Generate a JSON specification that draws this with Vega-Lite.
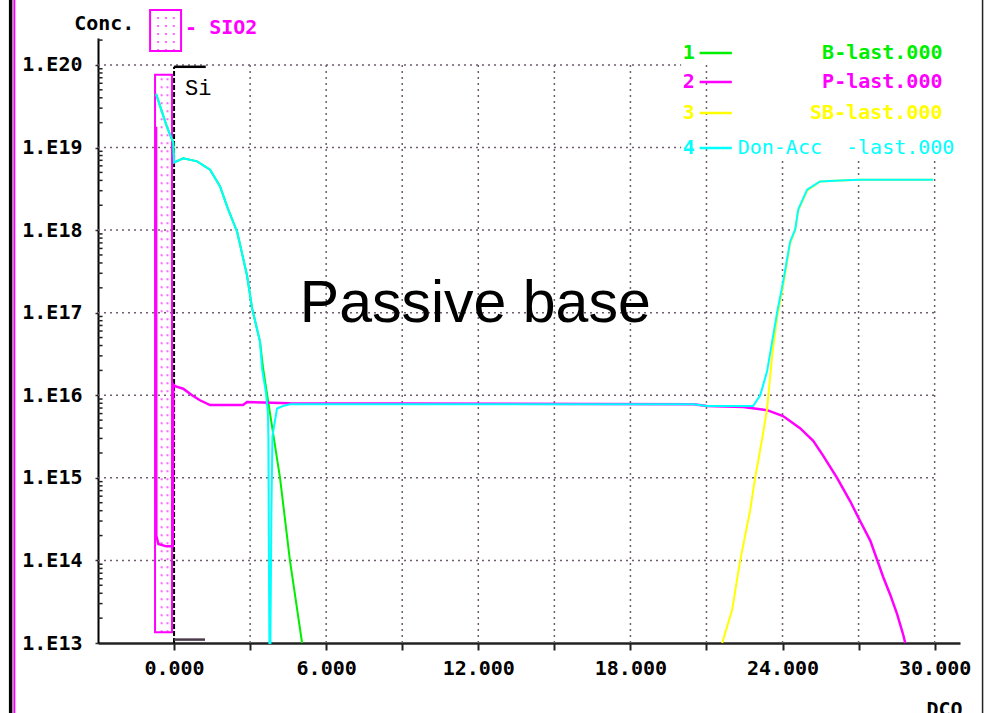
{
  "$schema": "https://vega.github.io/schema/vega-lite/v6.json",
  "width": 862,
  "height": 605,
  "autosize": {"type": "none"},
  "padding": {"left": 98, "top": 38, "right": 29, "bottom": 70},
  "background": "white",
  "config": {"view": {"stroke": null}},
  "datasets": {
    "grid": [
      {"x": -3, "x2": 20.0, "y": 1e20, "y2": 1e20},
      {"x": -3, "x2": 20.0, "y": 1e19, "y2": 1e19},
      {"x": -3, "x2": 30, "y": 1e18, "y2": 1e18},
      {"x": -3, "x2": 30, "y": 1e17, "y2": 1e17},
      {"x": -3, "x2": 30, "y": 1e16, "y2": 1e16},
      {"x": -3, "x2": 30, "y": 1e15, "y2": 1e15},
      {"x": -3, "x2": 30, "y": 1e14, "y2": 1e14},
      {"x": 3, "x2": 3, "y": 1e13, "y2": 1e20},
      {"x": 6, "x2": 6, "y": 1e13, "y2": 1e20},
      {"x": 9, "x2": 9, "y": 1e13, "y2": 1e20},
      {"x": 12, "x2": 12, "y": 1e13, "y2": 1e20},
      {"x": 15, "x2": 15, "y": 1e13, "y2": 1e20},
      {"x": 18, "x2": 18, "y": 1e13, "y2": 1e20},
      {"x": 21, "x2": 21, "y": 1e13, "y2": 1e20},
      {"x": 24, "x2": 24, "y": 1e13, "y2": 7.08e18},
      {"x": 27, "x2": 27, "y": 1e13, "y2": 7.08e18},
      {"x": 30, "x2": 30, "y": 1e13, "y2": 7.08e18}
    ],
    "minor": [
      {"m": 2e13}, {"m": 3e13}, {"m": 4e13}, {"m": 5e13}, {"m": 6e13}, {"m": 7e13}, {"m": 8e13}, {"m": 9e13},
      {"m": 2e14}, {"m": 3e14}, {"m": 4e14}, {"m": 5e14}, {"m": 6e14}, {"m": 7e14}, {"m": 8e14}, {"m": 9e14},
      {"m": 2e15}, {"m": 3e15}, {"m": 4e15}, {"m": 5e15}, {"m": 6e15}, {"m": 7e15}, {"m": 8e15}, {"m": 9e15},
      {"m": 2e16}, {"m": 3e16}, {"m": 4e16}, {"m": 5e16}, {"m": 6e16}, {"m": 7e16}, {"m": 8e16}, {"m": 9e16},
      {"m": 2e17}, {"m": 3e17}, {"m": 4e17}, {"m": 5e17}, {"m": 6e17}, {"m": 7e17}, {"m": 8e17}, {"m": 9e17},
      {"m": 2e18}, {"m": 3e18}, {"m": 4e18}, {"m": 5e18}, {"m": 6e18}, {"m": 7e18}, {"m": 8e18}, {"m": 9e18},
      {"m": 2e19}, {"m": 3e19}, {"m": 4e19}, {"m": 5e19}, {"m": 6e19}, {"m": 7e19}, {"m": 8e19}, {"m": 9e19},
      {"m": 2e20}
    ],
    "boxes": [
      {"x": -0.75, "x2": -0.08, "y": 1.35e13, "y2": 7.6e19},
      {"x": -0.946, "x2": 0.276, "y": 1.48e20, "y2": 4.64e20}
    ],
    "dots": [
      {"x": -0.49, "y": 1.35e13, "y2": 7.6e19},
      {"x": -0.26, "y": 1.35e13, "y2": 7.6e19},
      {"x": -0.63, "y": 1.48e20, "y2": 4.64e20},
      {"x": -0.32, "y": 1.48e20, "y2": 4.64e20},
      {"x": -0.01, "y": 1.48e20, "y2": 4.64e20}
    ],
    "B": [
      {"x": -0.71, "c": 4.47e19}, {"x": -0.28, "c": 1.78e19}, {"x": -0.03, "c": 1.15e19}, {"x": 0.0, "c": 6.6e18},
      {"x": 0.36, "c": 7.4e18}, {"x": 0.91, "c": 6.8e18}, {"x": 1.42, "c": 5.4e18}, {"x": 1.81, "c": 3.4e18},
      {"x": 2.13, "c": 1.8e18}, {"x": 2.49, "c": 9.5e17}, {"x": 2.88, "c": 2.8e17}, {"x": 3.08, "c": 1.12e17},
      {"x": 3.39, "c": 4.47e16}, {"x": 3.51, "c": 2.14e16}, {"x": 3.71, "c": 8.5e15}, {"x": 4.18, "c": 1.0e15},
      {"x": 4.57, "c": 1.0e14}, {"x": 5.05, "c": 1.0e13}
    ],
    "P": [
      {"x": -0.71, "c": 1.78e19}, {"x": -0.70, "c": 2.0e14}, {"x": -0.62, "c": 1.58e14}, {"x": -0.3, "c": 1.48e14},
      {"x": -0.05, "c": 1.48e14}, {"x": -0.03, "c": 1.35e16}, {"x": 0.04, "c": 1.29e16}, {"x": 0.36, "c": 1.2e16},
      {"x": 0.71, "c": 1.0e16}, {"x": 1.02, "c": 8.7e15}, {"x": 1.42, "c": 7.6e15}, {"x": 2.72, "c": 7.6e15},
      {"x": 2.88, "c": 8.3e15}, {"x": 4.58, "c": 8.0e15}, {"x": 20.5, "c": 7.8e15}, {"x": 21.0, "c": 7.4e15},
      {"x": 22.45, "c": 7.2e15}, {"x": 23.39, "c": 6.6e15}, {"x": 24.02, "c": 5.6e15}, {"x": 24.69, "c": 4.0e15},
      {"x": 25.21, "c": 2.8e15}, {"x": 25.6, "c": 1.86e15}, {"x": 26.15, "c": 1.0e15}, {"x": 26.67, "c": 5.2e14},
      {"x": 27.06, "c": 3.0e14}, {"x": 27.46, "c": 1.74e14}, {"x": 27.73, "c": 1.02e14}, {"x": 27.97, "c": 6.3e13},
      {"x": 28.24, "c": 3.9e13}, {"x": 28.52, "c": 2.24e13}, {"x": 28.76, "c": 1.26e13}, {"x": 28.84, "c": 1.0e13}
    ],
    "SB": [
      {"x": 21.62, "c": 1.0e13}, {"x": 22.01, "c": 2.5e13}, {"x": 22.33, "c": 1.0e14}, {"x": 22.72, "c": 4.0e14},
      {"x": 22.92, "c": 1.0e15}, {"x": 23.2, "c": 3.0e15}, {"x": 23.39, "c": 6.9e15}, {"x": 23.6, "c": 3.2e16},
      {"x": 23.79, "c": 8.9e16}, {"x": 24.02, "c": 2.1e17}, {"x": 24.3, "c": 6.9e17}, {"x": 24.5, "c": 1.0e18},
      {"x": 24.62, "c": 1.74e18}, {"x": 24.97, "c": 3.0e18}, {"x": 25.48, "c": 3.89e18}, {"x": 26.27, "c": 3.98e18},
      {"x": 27.06, "c": 4.07e18}, {"x": 29.94, "c": 4.07e18}
    ],
    "DA": [
      {"x": -0.71, "c": 4.47e19}, {"x": -0.28, "c": 1.78e19}, {"x": -0.03, "c": 1.15e19}, {"x": 0.0, "c": 6.6e18},
      {"x": 0.36, "c": 7.4e18}, {"x": 0.91, "c": 6.8e18}, {"x": 1.42, "c": 5.4e18}, {"x": 1.81, "c": 3.4e18},
      {"x": 2.13, "c": 1.8e18}, {"x": 2.49, "c": 9.5e17}, {"x": 2.88, "c": 2.8e17}, {"x": 3.08, "c": 1.12e17},
      {"x": 3.39, "c": 4.47e16}, {"x": 3.47, "c": 2.1e16}, {"x": 3.62, "c": 1.1e16}, {"x": 3.7, "c": 6.3e15},
      {"x": 3.72, "c": 3.2e15}, {"x": 3.74, "c": 1.26e14}, {"x": 3.76, "c": 1.0e13}, {"x": 3.8, "c": 1.0e13},
      {"x": 3.84, "c": 4.0e14}, {"x": 3.88, "c": 3.2e15}, {"x": 4.06, "c": 6.9e15}, {"x": 4.3, "c": 7.4e15},
      {"x": 4.58, "c": 7.8e15}, {"x": 10.0, "c": 7.8e15}, {"x": 16.0, "c": 7.8e15}, {"x": 20.5, "c": 7.8e15},
      {"x": 21.0, "c": 7.4e15}, {"x": 22.84, "c": 7.4e15}, {"x": 23.12, "c": 1.0e16}, {"x": 23.39, "c": 1.95e16},
      {"x": 23.79, "c": 1.02e17}, {"x": 24.02, "c": 2.34e17}, {"x": 24.3, "c": 7.24e17}, {"x": 24.5, "c": 1.02e18},
      {"x": 24.62, "c": 1.78e18}, {"x": 24.97, "c": 3.09e18}, {"x": 25.48, "c": 3.89e18}, {"x": 26.27, "c": 3.98e18},
      {"x": 27.06, "c": 4.07e18}, {"x": 29.94, "c": 4.07e18}
    ],
    "legend": [
      {"s": "B", "num": "1", "label": "B-last.000", "c": 1.40e20},
      {"s": "P", "num": "2", "label": "P-last.000", "c": 6.22e19},
      {"s": "SB", "num": "3", "label": "SB-last.000", "c": 2.62e19},
      {"s": "DA", "num": "4", "label": "Don-Acc\u00a0\u00a0-last.000", "c": 9.89e18}
    ]
  },
  "layer": [
    {
      "data": {"name": "grid"},
      "mark": {"type": "rule", "color": "#6e5e6e", "strokeDash": [2, 4], "strokeWidth": 1.5},
      "encoding": {
        "x": {
          "field": "x", "type": "quantitative", "title": null,
          "scale": {"domain": [-3, 31], "nice": false, "zero": false},
          "axis": {
            "values": [0, 3, 6, 9, 12, 15, 18, 21, 24, 27, 30],
            "labelExpr": "datum.value % 6 == 0 ? format(datum.value, '.3f') : ''",
            "grid": false, "title": null,
            "domainColor": "#222222", "domainWidth": 2.5,
            "tickColor": "#222222", "tickWidth": 2, "tickSize": 7,
            "labelFont": "DejaVu Sans Mono", "labelFontWeight": "bold", "labelFontSize": 20,
            "labelColor": "black", "labelPadding": 8, "labelDx": 16, "labelAlign": "center",
            "labelFlush": false, "labelOverlap": false
          }
        },
        "x2": {"field": "x2"},
        "y": {
          "field": "y", "type": "quantitative", "title": null,
          "scale": {"type": "log", "domain": [1e13, 2.12e20], "nice": false},
          "axis": {
            "values": [1e13, 1e14, 1e15, 1e16, 1e17, 1e18, 1e19, 1e20],
            "labelExpr": "'1.E' + round(log(datum.value) / LN10)",
            "grid": false, "title": null,
            "domainColor": "black", "domainWidth": 2,
            "tickColor": "#333333", "tickSize": 3, "tickWidth": 1.5,
            "labelFont": "DejaVu Sans Mono", "labelFontWeight": "bold", "labelFontSize": 20,
            "labelColor": "black", "labelPadding": 13, "labelOverlap": false
          }
        },
        "y2": {"field": "y2"}
      }
    },
    {
      "data": {"name": "minor"},
      "mark": {"type": "rule", "color": "#222222", "strokeWidth": 1.5},
      "encoding": {
        "x": {"datum": -3, "type": "quantitative", "title": null},
        "x2": {"datum": -2.82},
        "y": {"field": "m", "type": "quantitative", "title": null}
      }
    },
    {
      "data": {"name": "dots"},
      "mark": {"type": "rule", "color": "#ff66ff", "strokeDash": [2, 6], "strokeWidth": 2},
      "encoding": {
        "x": {"field": "x", "type": "quantitative", "title": null},
        "y": {"field": "y", "type": "quantitative", "title": null},
        "y2": {"field": "y2"}
      }
    },
    {
      "data": {"name": "boxes"},
      "mark": {"type": "rect", "fill": "transparent", "stroke": "#ff00ff", "strokeWidth": 2},
      "encoding": {
        "x": {"field": "x", "type": "quantitative", "title": null},
        "x2": {"field": "x2"},
        "y": {"field": "y", "type": "quantitative", "title": null},
        "y2": {"field": "y2"}
      }
    },
    {
      "data": {"values": [{"k": "si"}]},
      "mark": {"type": "rule", "color": "black", "strokeDash": [5, 2], "strokeWidth": 2},
      "encoding": {
        "x": {"datum": 0, "type": "quantitative", "title": null},
        "y": {"datum": 1e13, "type": "quantitative", "title": null},
        "y2": {"datum": 9.5e19}
      }
    },
    {
      "data": {"values": [{"k": "top", "x": 0, "x2": 1.25, "y": 9.5e19}]},
      "mark": {"type": "rule", "color": "black", "strokeWidth": 2.5},
      "encoding": {
        "x": {"field": "x", "type": "quantitative", "title": null},
        "x2": {"field": "x2"},
        "y": {"field": "y", "type": "quantitative", "title": null}
      }
    },
    {
      "data": {"values": [{"k": "bottom", "x": 0, "x2": 1.22, "y": 1.1e13}]},
      "mark": {"type": "rule", "color": "#4a3a4a", "strokeWidth": 2.5},
      "encoding": {
        "x": {"field": "x", "type": "quantitative", "title": null},
        "x2": {"field": "x2"},
        "y": {"field": "y", "type": "quantitative", "title": null}
      }
    },
    {
      "data": {"name": "B"},
      "mark": {"type": "line", "color": "#00ee00", "strokeWidth": 2},
      "encoding": {
        "x": {"field": "x", "type": "quantitative", "title": null},
        "y": {"field": "c", "type": "quantitative", "title": null}
      }
    },
    {
      "data": {"name": "P"},
      "mark": {"type": "line", "color": "#ff00ff", "strokeWidth": 2.5},
      "encoding": {
        "x": {"field": "x", "type": "quantitative", "title": null},
        "y": {"field": "c", "type": "quantitative", "title": null}
      }
    },
    {
      "data": {"name": "SB"},
      "mark": {"type": "line", "color": "#ffff00", "strokeWidth": 2},
      "encoding": {
        "x": {"field": "x", "type": "quantitative", "title": null},
        "y": {"field": "c", "type": "quantitative", "title": null}
      }
    },
    {
      "data": {"name": "DA"},
      "mark": {"type": "line", "color": "#00ffff", "strokeWidth": 2},
      "encoding": {
        "x": {"field": "x", "type": "quantitative", "title": null},
        "y": {"field": "c", "type": "quantitative", "title": null}
      }
    },
    {
      "data": {"name": "legend"},
      "mark": {"type": "rule", "strokeWidth": 2.5},
      "encoding": {
        "x": {"datum": 20.73, "type": "quantitative", "title": null},
        "x2": {"datum": 22.0},
        "y": {"field": "c", "type": "quantitative", "title": null},
        "color": {"field": "s", "type": "nominal", "scale": {"domain": ["B", "P", "SB", "DA"], "range": ["#00ee00", "#ff00ff", "#ffff00", "#00ffff"]}, "legend": null}
      }
    },
    {
      "data": {"name": "legend"},
      "mark": {"type": "text", "align": "left", "baseline": "middle", "font": "DejaVu Sans Mono", "fontWeight": "bold", "fontSize": 20},
      "encoding": {
        "x": {"datum": 20.06, "type": "quantitative", "title": null},
        "y": {"field": "c", "type": "quantitative", "title": null},
        "text": {"field": "num"},
        "color": {"field": "s", "type": "nominal", "legend": null}
      }
    },
    {
      "data": {"name": "legend"},
      "transform": [{"filter": "datum.s != 'DA'"}],
      "mark": {"type": "text", "align": "right", "baseline": "middle", "font": "DejaVu Sans Mono", "fontWeight": "bold", "fontSize": 20},
      "encoding": {
        "x": {"datum": 30.31, "type": "quantitative", "title": null},
        "y": {"field": "c", "type": "quantitative", "title": null},
        "text": {"field": "label"},
        "color": {"field": "s", "type": "nominal", "legend": null}
      }
    },
    {
      "data": {"name": "legend"},
      "transform": [{"filter": "datum.s == 'DA'"}],
      "mark": {"type": "text", "align": "right", "baseline": "middle", "font": "DejaVu Sans Mono", "fontWeight": "normal", "fontSize": 20},
      "encoding": {
        "x": {"datum": 30.78, "type": "quantitative", "title": null},
        "y": {"field": "c", "type": "quantitative", "title": null},
        "text": {"field": "label"},
        "color": {"field": "s", "type": "nominal", "legend": null}
      }
    },
    {
      "data": {"values": [{"t": "Conc.", "x": -3.94, "y": 3.14e20}]},
      "mark": {"type": "text", "align": "left", "baseline": "middle", "font": "DejaVu Sans Mono", "fontWeight": "bold", "fontSize": 20, "color": "black"},
      "encoding": {
        "x": {"field": "x", "type": "quantitative", "title": null},
        "y": {"field": "y", "type": "quantitative", "title": null},
        "text": {"field": "t"}
      }
    },
    {
      "data": {"values": [{"t": "- SIO2", "x": 0.434, "y": 2.81e20}]},
      "mark": {"type": "text", "align": "left", "baseline": "middle", "font": "DejaVu Sans Mono", "fontWeight": "bold", "fontSize": 20, "color": "#ff00ff"},
      "encoding": {
        "x": {"field": "x", "type": "quantitative", "title": null},
        "y": {"field": "y", "type": "quantitative", "title": null},
        "text": {"field": "t"}
      }
    },
    {
      "data": {"values": [{"t": "Si", "x": 0.434, "y": 5.27e19}]},
      "mark": {"type": "text", "align": "left", "baseline": "middle", "font": "Liberation Mono", "fontSize": 22, "color": "black"},
      "encoding": {
        "x": {"field": "x", "type": "quantitative", "title": null},
        "y": {"field": "y", "type": "quantitative", "title": null},
        "text": {"field": "t"}
      }
    },
    {
      "data": {"values": [{"t": "Passive base", "x": 11.88, "y": 7.71e16}]},
      "mark": {"type": "text", "align": "center", "baseline": "alphabetic", "font": "Liberation Sans", "fontSize": 59, "color": "black"},
      "encoding": {
        "x": {"field": "x", "type": "quantitative", "title": null},
        "y": {"field": "y", "type": "quantitative", "title": null},
        "text": {"field": "t"}
      }
    },
    {
      "data": {"values": [{"t": "DCO", "x": 30.39, "y": 2.04e12}]},
      "mark": {"type": "text", "align": "center", "baseline": "top", "font": "DejaVu Sans Mono", "fontWeight": "bold", "fontSize": 20, "color": "black"},
      "encoding": {
        "x": {"field": "x", "type": "quantitative", "title": null},
        "y": {"field": "y", "type": "quantitative", "title": null},
        "text": {"field": "t"}
      }
    },
    {
      "data": {"values": [{"k": "left-black", "x": -6.445}]},
      "mark": {"type": "rule", "color": "black", "strokeWidth": 3.5},
      "encoding": {
        "x": {"field": "x", "type": "quantitative", "title": null},
        "y": {"datum": 1e12, "type": "quantitative", "title": null},
        "y2": {"datum": 1e21}
      }
    },
    {
      "data": {"values": [{"k": "left-magenta", "x": -6.3}]},
      "mark": {"type": "rule", "color": "#ff00ff", "strokeWidth": 2},
      "encoding": {
        "x": {"field": "x", "type": "quantitative", "title": null},
        "y": {"datum": 1e12, "type": "quantitative", "title": null},
        "y2": {"datum": 1e21}
      }
    },
    {
      "data": {"values": [{"k": "right-black", "x": 31.89}]},
      "mark": {"type": "rule", "color": "#222222", "strokeWidth": 1.5},
      "encoding": {
        "x": {"field": "x", "type": "quantitative", "title": null},
        "y": {"datum": 1e12, "type": "quantitative", "title": null},
        "y2": {"datum": 1e21}
      }
    }
  ]
}
